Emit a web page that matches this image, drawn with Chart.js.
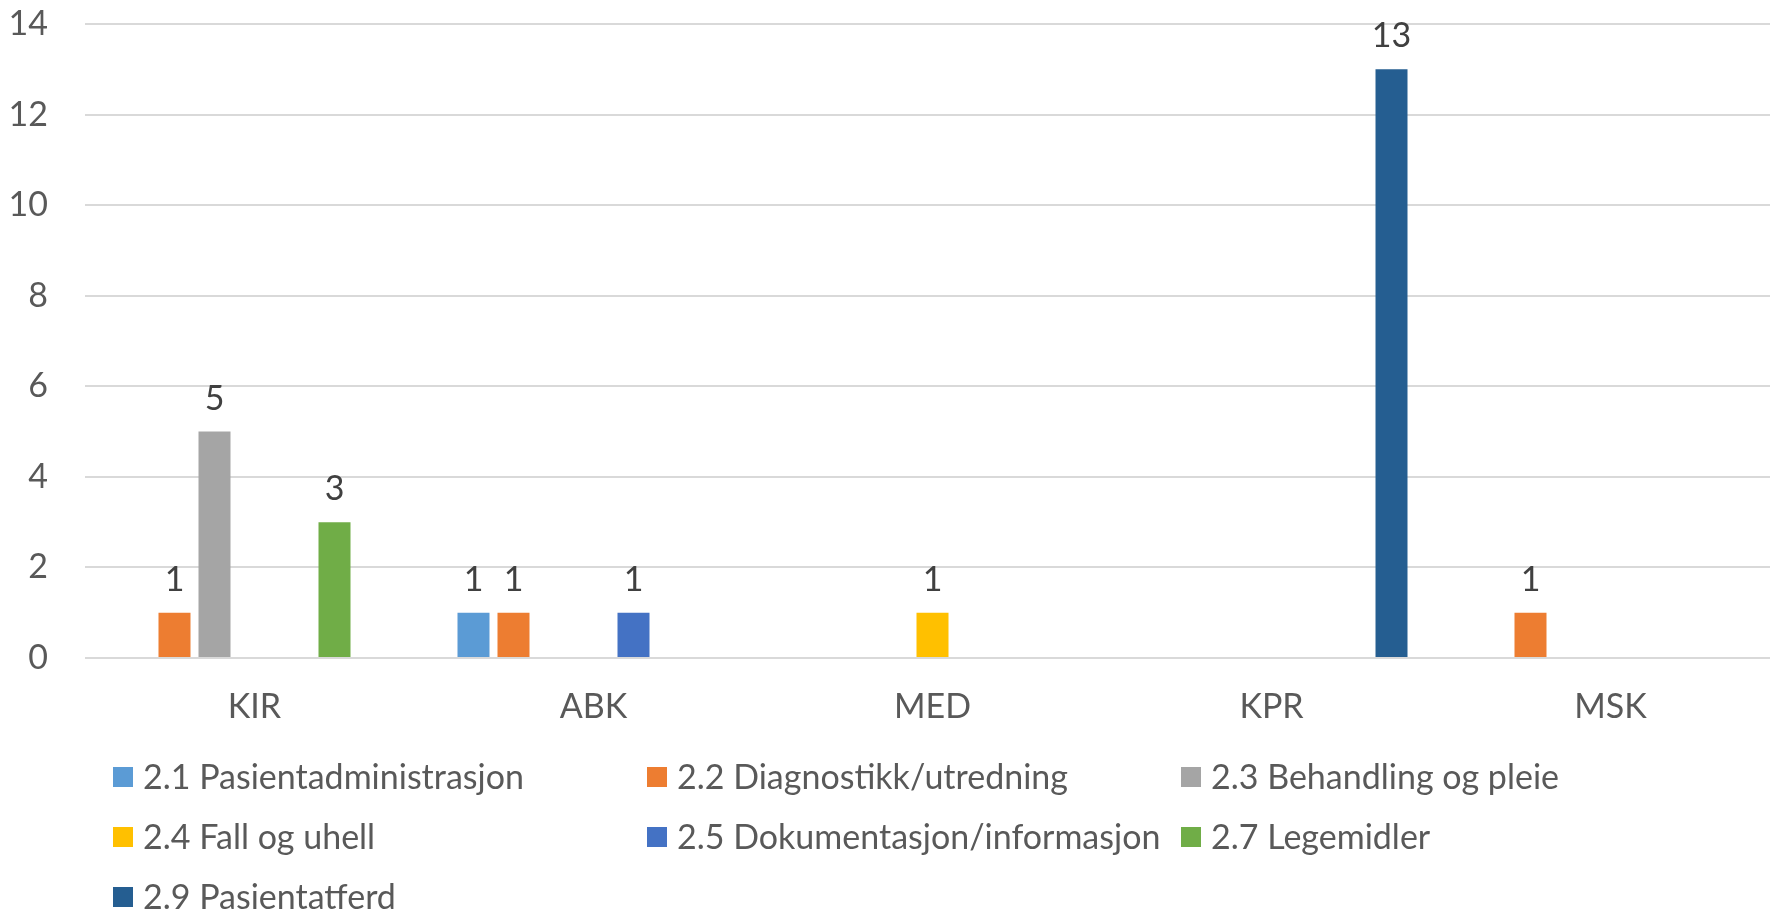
<!DOCTYPE html>
<html>
<head>
<meta charset="utf-8">
<script src="https://cdn.jsdelivr.net/npm/chart.js@4.4.1/dist/chart.umd.min.js"></script>
<style>
  html, body { margin: 0; padding: 0; background: #fff; overflow: hidden; }
  #wrap { width: 1780px; height: 911px; }
</style>
</head>
<body>
<div id="wrap"><canvas id="mycanvas"></canvas></div>
<script>
// categories and series
var units = ["KIR", "ABK", "MED", "KPR", "MSK"];
var seriesNames = [
  "2.1 Pasientadministrasjon",
  "2.2 Diagnostikk/utredning",
  "2.3 Behandling og pleie",
  "2.4 Fall og uhell",
  "2.5 Dokumentasjon/informasjon",
  "2.7 Legemidler",
  "2.9 Pasientatferd"
];
var pasientadm   = [null, 1, null, null, null];
var diagnostikk  = [1, 1, null, null, 1];
var behandling   = [5, null, null, null, null];
var fallUhell    = [null, null, 1, null, null];
var dokumentasjon = [null, 1, null, null, null];
var legemidler   = [3, null, null, null, null];
var pasientatferd = [null, null, null, 13, null];
var yTicks = [0, 2, 4, 6, 8, 10, 12, 14];

var seriesValues = [pasientadm, diagnostikk, behandling, fallUhell, dokumentasjon, legemidler, pasientatferd];
var colors = ["#5B9BD5", "#ED7D31", "#A5A5A5", "#FFC000", "#4472C4", "#70AD47", "#255E91"];

var FONT = "Lato, 'Open Sans', sans-serif";

var datasets = [];
for (var i in seriesNames) {
  datasets.push({
    label: seriesNames[i],
    data: seriesValues[i],
    backgroundColor: colors[i],
    borderWidth: 0,
    categoryPercentage: 0.826,
    barPercentage: 0.8
  });
}

// value labels above the bars
var valueLabels = {
  id: "valueLabels",
  afterDatasetsDraw: function(chart) {
    var ctx = chart.ctx;
    ctx.save();
    ctx.font = "34px " + FONT;
    ctx.fillStyle = "#404040";
    ctx.textAlign = "center";
    ctx.textBaseline = "middle";
    chart.data.datasets.forEach(function(ds, di) {
      var meta = chart.getDatasetMeta(di);
      meta.data.forEach(function(bar, j) {
        var v = ds.data[j];
        if (v === null || v === undefined) return;
        ctx.fillText(String(v), bar.x, bar.y - 33);
      });
    });
    ctx.restore();
  }
};

// legend in fixed columns, like the office chart
var gridLegend = {
  id: "gridLegend",
  afterDraw: function(chart) {
    var ctx = chart.ctx;
    var cols = [113, 647, 1181];
    var rows = [777, 837, 897];
    ctx.save();
    ctx.font = "34px " + FONT;
    ctx.textBaseline = "middle";
    ctx.textAlign = "left";
    chart.data.datasets.forEach(function(ds, k) {
      var x = cols[k % 3];
      var y = rows[Math.floor(k / 3)];
      ctx.fillStyle = ds.backgroundColor;
      ctx.fillRect(x, y - 10, 20, 20);
      ctx.fillStyle = "#595959";
      ctx.fillText(ds.label, x + 30, y + 1);
    });
    ctx.restore();
  }
};

var chartdata = {
  labels: units,
  datasets: datasets
};

var ctx = document.getElementById("mycanvas");

var BarGraph = new Chart(ctx, {
  type: "bar",
  data: chartdata,
  plugins: [valueLabels, gridLegend],
  options: {
    responsive: true,
    maintainAspectRatio: false,
    animation: false,
    layout: { padding: { top: 24, right: 0, bottom: 0, left: 0 } },
    plugins: {
      legend: { display: false },
      tooltip: { enabled: false }
    },
    scales: {
      x: {
        grid: { display: false, drawTicks: false },
        border: { display: false },
        ticks: {
          color: "#595959",
          font: { family: FONT, size: 34 },
          padding: 29
        },
        afterFit: function(scale) { scale.height = 253; }
      },
      y: {
        min: 0,
        max: 14,
        afterBuildTicks: function(scale) {
          scale.ticks = yTicks.map(function(v) { return { value: v }; });
        },
        grid: {
          color: "#D9D9D9",
          lineWidth: 2,
          drawTicks: true,
          tickLength: 37,
          tickColor: "rgba(0,0,0,0)"
        },
        border: { display: false },
        ticks: {
          color: "#595959",
          font: { family: FONT, size: 34 },
          padding: 0
        },
        afterFit: function(scale) { scale.width = 85; }
      }
    }
  }
});
</script>
</body>
</html>
